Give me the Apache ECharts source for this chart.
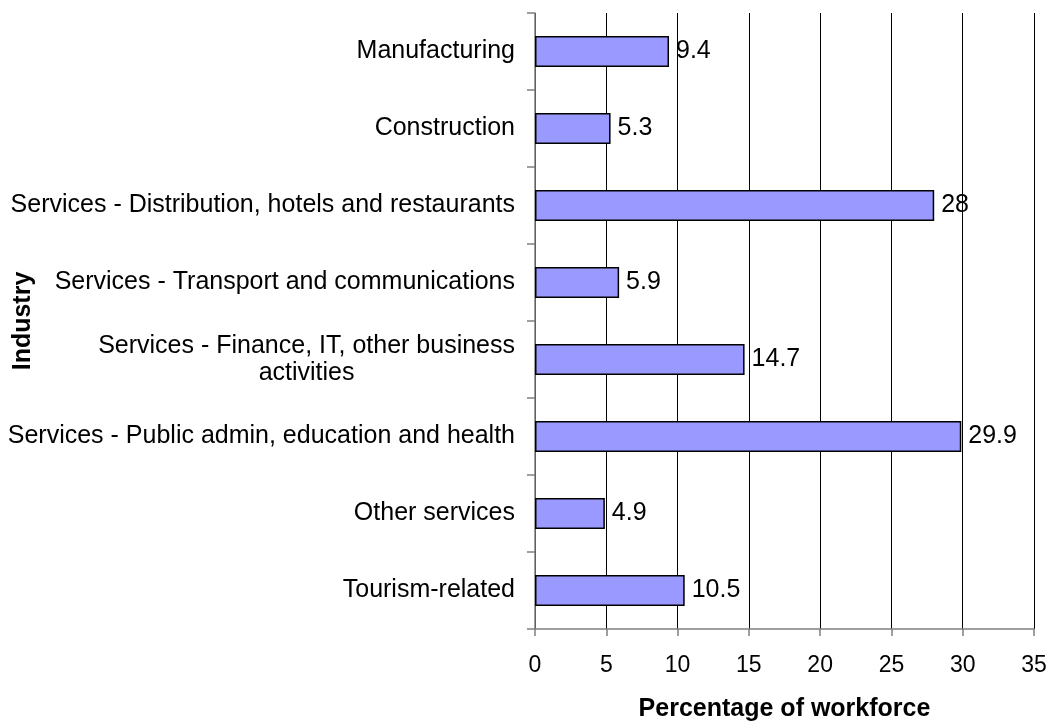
<!DOCTYPE html>
<html>
<head>
<meta charset="utf-8">
<script src="https://cdn.jsdelivr.net/npm/echarts@6/dist/echarts.min.js"></script>
<style>
  html, body { margin: 0; padding: 0; background: #fff; }
  #chart { width: 1050px; height: 721px; }
</style>
</head>
<body>
<div id="chart"></div>
<script>
var industries = [
  'Manufacturing',
  'Construction',
  'Services - Distribution, hotels and restaurants',
  'Services - Transport and communications',
  'Services - Finance, IT, other business\nactivities',
  'Services - Public admin, education and health',
  'Other services',
  'Tourism-related'
]
var shares = [9.4, 5.3, 28, 5.9, 14.7, 29.9, 4.9, 10.5]
var font = 'Arial, "Liberation Sans", sans-serif'

var chart = echarts.init(document.getElementById('chart'))

// multi-line labels: lines centred on each other, block right aligned
function catLabel(value) {
  return value.split('\n').map(function (s) { return '{c|' + s + '}' }).join('\n')
}

var option = {
  animation: false,
  grid: { left: 535, right: 16, top: 13, bottom: 92, containLabel: false, outerBoundsMode: 'none' },
  xAxis: {
    type: 'value',
    min: 0,
    max: 35,
    interval: 5,
    name: 'Percentage of workforce',
    nameLocation: 'middle',
    nameGap: 68,
    nameMoveOverlap: false,
    nameTextStyle: { fontFamily: font, fontSize: 25, fontWeight: 'bold', color: '#000' },
    axisLine: { show: true, lineStyle: { color: '#808080', width: 1.5 } },
    axisTick: { show: true, length: 7, lineStyle: { color: '#808080', width: 1.5 } },
    axisLabel: { fontFamily: font, fontSize: 23, color: '#000', margin: 25 },
    splitLine: { show: true, lineStyle: { color: '#000', width: 1 } }
  },
  yAxis: {
    type: 'category',
    data: industries,
    inverse: true,
    name: 'Industry',
    nameLocation: 'middle',
    nameRotate: 90,
    nameGap: 499,
    nameMoveOverlap: false,
    nameTextStyle: { fontFamily: font, fontSize: 25, fontWeight: 'bold', color: '#000' },
    axisLine: { show: true, lineStyle: { color: '#808080', width: 1.5 } },
    axisTick: { show: true, length: 8, lineStyle: { color: '#808080', width: 1.5 } },
    axisLabel: {
      fontFamily: font,
      fontSize: 25,
      color: '#000',
      margin: 20,
      formatter: catLabel,
      rich: {
        c: { fontFamily: font, fontSize: 25, color: '#000', align: 'center', lineHeight: 27 }
      }
    }
  },
  series: [{
    type: 'bar',
    data: shares,
    barWidth: '40%',
    itemStyle: { color: '#9999ff', borderColor: '#000', borderWidth: 1.5 },
    label: {
      show: true,
      position: 'right',
      distance: 7,
      fontFamily: font,
      fontSize: 25,
      color: '#000'
    }
  }]
}

chart.setOption(option)
</script>
</body>
</html>
